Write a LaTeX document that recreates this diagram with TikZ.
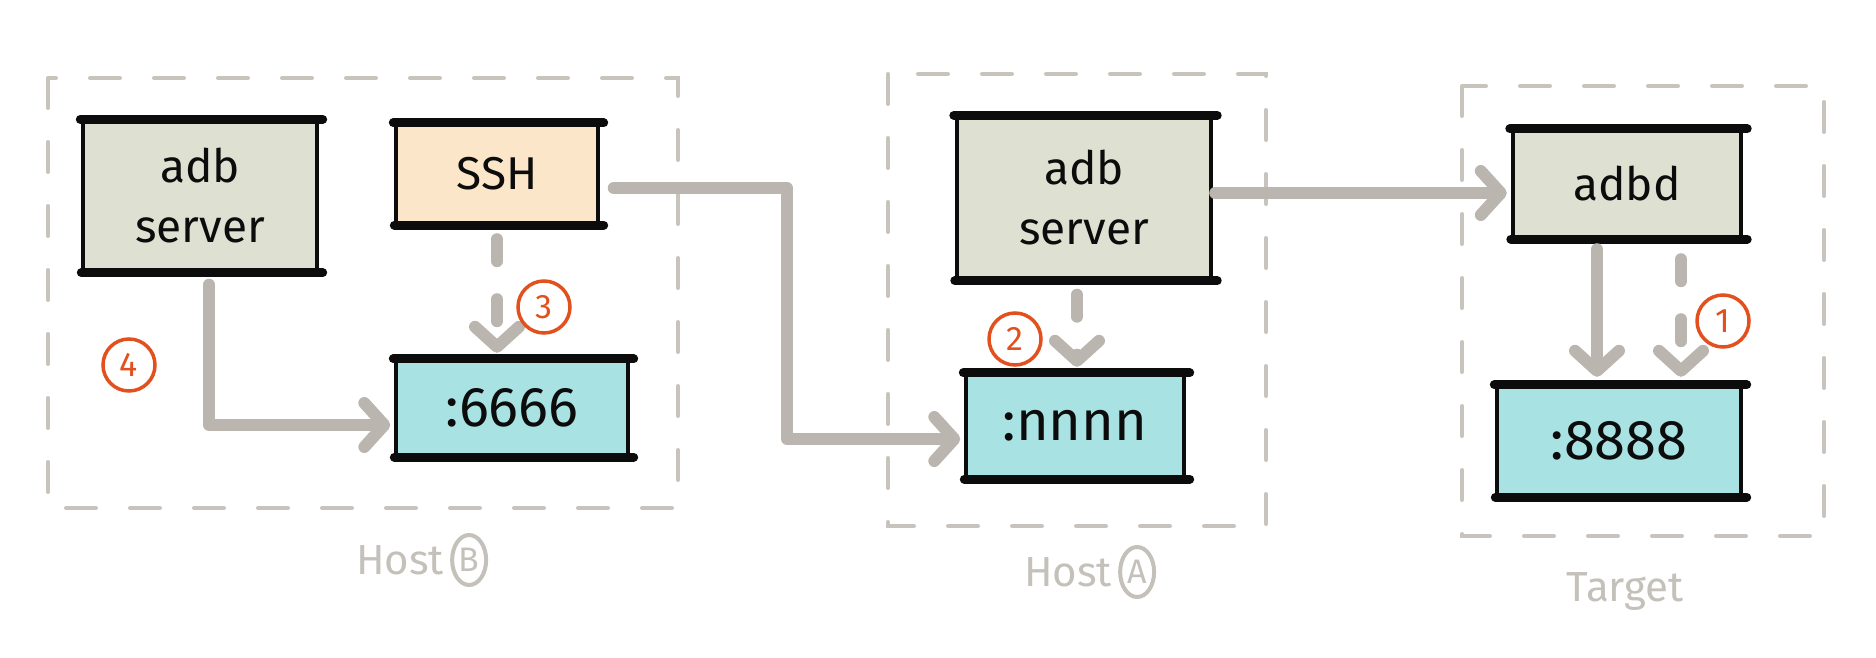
\documentclass[tikz,border=0pt]{standalone}
\usepackage{fontspec}
\setmainfont{Fira Sans}
\usetikzlibrary{arrows.meta,calc,positioning,shapes.geometric}
\usepackage{xcolor}
\definecolor{sage}{RGB}{222,225,210}
\definecolor{peach}{RGB}{251,230,201}
\definecolor{aqua}{RGB}{169,226,227}
\definecolor{wiregray}{RGB}{186,182,175}
\definecolor{framegray}{RGB}{200,196,189}
\definecolor{tagred}{RGB}{226,80,30}
\definecolor{ink}{RGB}{12,12,12}
\definecolor{capgray}{RGB}{196,192,186}
\newcommand{\sketchedges}[1]{% node name
  \draw[ink,line width=9pt,line cap=round] ([xshift=-3pt]#1.north west) -- ([xshift=6pt]#1.north east);
  \draw[ink,line width=9pt,line cap=round] ([xshift=-2pt]#1.south west) -- ([xshift=6pt]#1.south east);
  \draw[ink,line width=4pt,line cap=round] (#1.north west) -- (#1.south west);
  \draw[ink,line width=4pt,line cap=round] (#1.north east) -- (#1.south east);
}

\begin{document}
\begin{tikzpicture}[x=1pt,y=-1pt,
  box/.style={inner sep=0pt,align=center,text=ink,font=\fontsize{46}{60}\selectfont},
  port/.style={box,fill=aqua,font=\fontsize{56}{60}\selectfont},
  link/.style={wiregray,line width=12pt,line cap=round,line join=round},
  tip/.style={-{Straight Barb[length=20pt,width=44pt,round]}},
  dots/.style={dash pattern=on 22pt off 38pt},
  frame/.style={framegray,line width=4pt,line cap=round,dash pattern=on 30pt off 34pt},
  tag/.style={circle,draw=tagred,text=tagred,line width=3.5pt,minimum size=52pt,inner sep=0pt,font=\fontsize{34}{34}\selectfont},
  caption/.style={text=capgray,font=\fontsize{42}{42}\selectfont,inner sep=0pt},
  ring/.style={ellipse,draw=capgray,line width=4pt,text=capgray,minimum width=34pt,minimum height=50pt,inner sep=0pt,font=\fontsize{34}{34}\selectfont}]
  \useasboundingbox (0,0) rectangle (1876,658);

  % groups
  \draw[frame] (48,78) rectangle (678,508);
  \draw[frame] (888,74) rectangle (1266,526);
  \draw[frame] (1462,86) rectangle (1824,536);

  % Host B
  \node[box,fill=sage,minimum width=233pt,minimum height=153pt] (adbb) at (200,196) {adb\\server};
  \node[box,fill=peach,minimum width=201pt,minimum height=102pt] (ssh) at (497,174) {SSH};
  \node[port,minimum width=231pt,minimum height=98pt] (p6666) at (512,408) {:6666};
  % Host A
  \node[box,fill=sage,minimum width=254pt,minimum height=165pt] (adba) at (1084,198) {adb\\server};
  \node[port,minimum width=217pt,minimum height=106pt] (pnnnn) at (1075,426) {:nnnn};
  % Target
  \node[box,fill=sage,minimum width=228pt,minimum height=110pt] (adbd) at (1627,184) {adbd};
  \node[port,minimum width=243pt,minimum height=112pt] (p8888) at (1619,441) {:8888};

  \foreach \b in {adbb,ssh,p6666,adba,pnnnn,adbd,p8888}{\sketchedges{\b}}

  % connectors
  \draw[link,tip,shorten <=12pt,shorten >=6pt] ([xshift=9pt]adbb.south) |- ([yshift=-17pt]p6666.west);
  \draw[link,dots,tip,shorten <=14pt,shorten >=6pt] (ssh.south) -- (ssh.south |- p6666.north);
  \coordinate (bend) at (787,188);
  \draw[link,tip,shorten <=16pt,shorten >=6pt] (ssh.east |- bend) -- (bend) |- ([yshift=-13pt]pnnnn.west);
  \draw[link,dots,tip,shorten <=14pt,shorten >=6pt] ([xshift=-7pt]adba.south) -- ([xshift=-7pt]adba.south |- pnnnn.north);
  \draw[link,tip,shorten <=4pt,shorten >=6pt] ([yshift=5pt]adba.east) -- ([yshift=5pt]adba.east -| adbd.west);
  \draw[link,tip,shorten <=10pt,shorten >=8pt] ([xshift=-30pt]adbd.south) -- ([xshift=-30pt]adbd.south |- p8888.north);
  \draw[link,dots,tip,shorten <=20pt,shorten >=8pt] ([xshift=54pt]adbd.south) -- ([xshift=54pt]adbd.south |- p8888.north);

  % step marks
  \node[tag] (t1) at (1723,321) {1};
  \node[tag] (t2) at (1015,339) {2};
  \node[tag] (t3) at (544,307) {3};
  \node[tag] (t4) at (129,365) {4};

  % captions
  \node[caption] (hostb) at (400,560) {Host};
  \node[ring,right=6pt of hostb] (hostbmark) {B};
  \node[caption] (hosta) at (1068,572) {Host};
  \node[ring,right=6pt of hosta] (hostamark) {A};
  \node[caption] (target) at (1625,591) {Target};
\end{tikzpicture}
\end{document}
